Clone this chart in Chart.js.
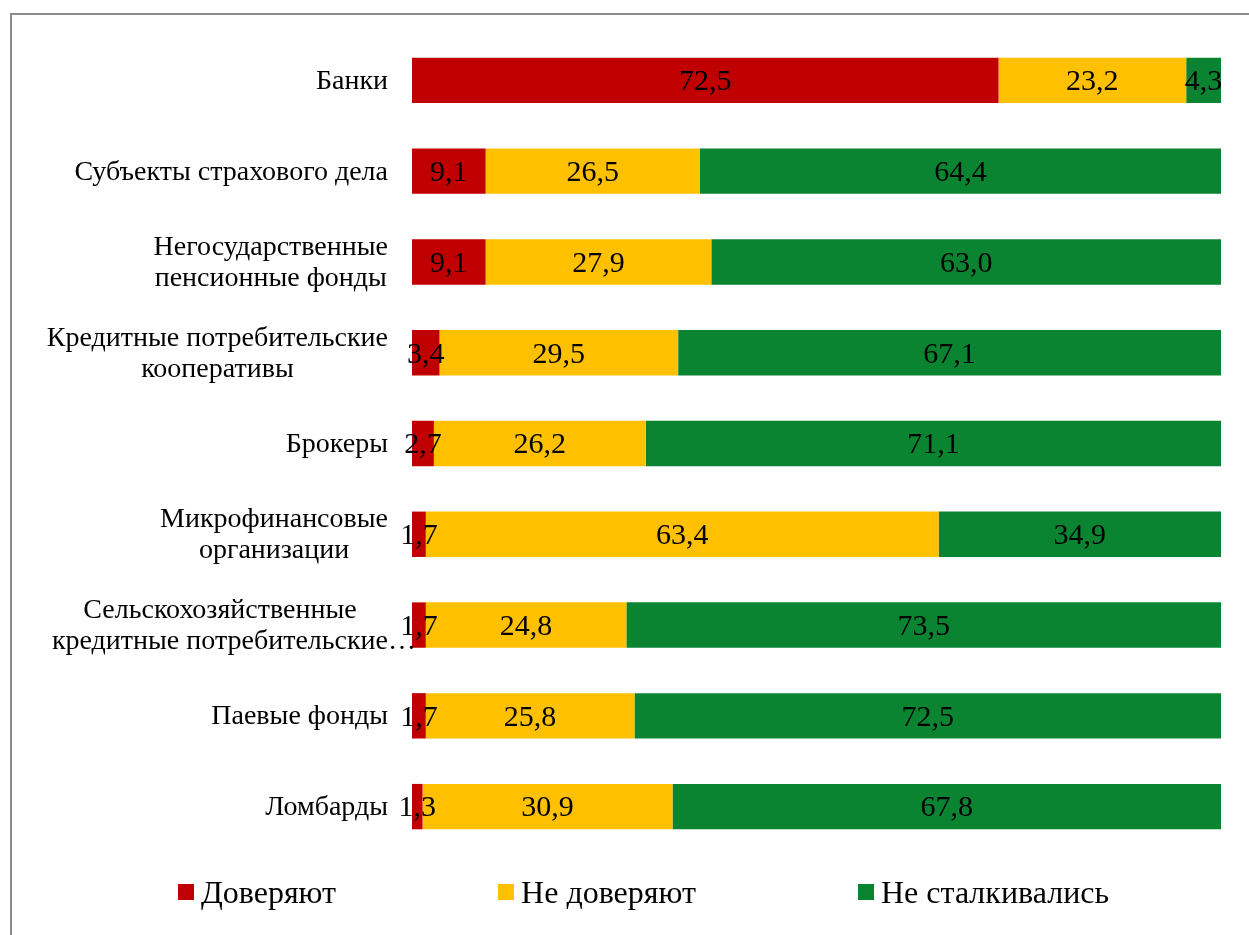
<!DOCTYPE html>
<html>
<head>
<meta charset="utf-8">
<script src="https://cdn.jsdelivr.net/npm/chart.js@4/dist/chart.umd.min.js"></script>
<style>
  html, body { margin: 0; padding: 0; background: #fff; overflow: hidden; }
  #wrap { position: relative; width: 1249px; height: 935px; }
  #frame { position: absolute; left: 10px; top: 13px; width: 1400px; height: 1100px; border: 2px solid #8c8c8c; box-sizing: border-box; }
  #bars { position: absolute; left: 0; top: 0; }
  #legend { position: absolute; left: 0; top: 872px; width: 1287px; display: flex; justify-content: center; gap: 162px;
            font-family: "Liberation Serif", "Times New Roman", serif; font-size: 32px; line-height: 40px; color: #000; }
  #legend span.item { display: flex; align-items: center; white-space: nowrap; }
  #legend span.box { display: inline-block; width: 16px; height: 16px; margin-right: 7px; }
</style>
</head>
<body>
<div id="wrap">
  <div id="frame"></div>
  <canvas id="bars" width="1249" height="935"></canvas>
  <div id="legend"></div>
</div>
<script>
const categories = [
  'Банки',
  ['Субъекты страхового дела'],
  ['Негосударственные', 'пенсионные фонды'],
  ['Кредитные потребительские', 'кооперативы'],
  'Брокеры',
  ['Микрофинансовые', 'организации'],
  ['Сельскохозяйственные', 'кредитные потребительские…'],
  'Паевые фонды',
  'Ломбарды'
];
const seriesNames = ['Доверяют', 'Не доверяют', 'Не сталкивались'];
const trust    = [72.5, 9.1, 9.1, 3.4, 2.7, 1.7, 1.7, 1.7, 1.3];
const distrust = [23.2, 26.5, 27.9, 29.5, 26.2, 63.4, 24.8, 25.8, 30.9];
const noExp    = [4.3, 64.4, 63.0, 67.1, 71.1, 34.9, 73.5, 72.5, 67.8];
const colors = ['#C00000', '#FFC000', '#0A8431'];

const serif = '"Liberation Serif", "Times New Roman", serif';

// подписи значений в центре сегментов
const valueLabels = {
  id: 'valueLabels',
  afterDatasetsDraw(chart) {
    const ctx = chart.ctx;
    ctx.save();
    ctx.font = '30px ' + serif;
    ctx.fillStyle = '#000';
    ctx.textAlign = 'center';
    ctx.textBaseline = 'middle';
    chart.data.datasets.forEach((ds, di) => {
      chart.getDatasetMeta(di).data.forEach((bar, i) => {
        const v = ds.data[i];
        ctx.fillText(v.toFixed(1).replace('.', ','), (bar.x + bar.base) / 2, bar.y + 2);
      });
    });
    ctx.restore();
  }
};

// подписи категорий: строки по центру блока, блок прижат вправо
const categoryLabels = {
  id: 'categoryLabels',
  afterDraw(chart) {
    const ctx = chart.ctx;
    const scale = chart.scales.y;
    const right = 388;
    const lh = 31;
    ctx.save();
    ctx.font = '28px ' + serif;
    ctx.fillStyle = '#000';
    ctx.textAlign = 'left';
    ctx.textBaseline = 'middle';
    categories.forEach((lab, i) => {
      const lines = Array.isArray(lab) ? lab : [lab];
      const widths = lines.map(l => ctx.measureText(l.replace(/…$/, '')).width);
      const maxW = Math.max(...widths);
      const cx = right - maxW / 2;
      const y0 = scale.getPixelForValue(i) + 1 - (lines.length - 1) * lh / 2;
      lines.forEach((l, k) => {
        ctx.fillText(l, cx - widths[k] / 2, y0 + k * lh);
      });
    });
    ctx.restore();
  }
};

const chart = new Chart(document.getElementById('bars'), {
  type: 'bar',
  data: {
    labels: categories,
    datasets: [
      { label: seriesNames[0], data: trust, backgroundColor: colors[0] },
      { label: seriesNames[1], data: distrust, backgroundColor: colors[1] },
      { label: seriesNames[2], data: noExp, backgroundColor: colors[2] }
    ]
  },
  options: {
    indexAxis: 'y',
    responsive: false,
    animation: false,
    events: [],
    layout: { padding: { top: 35, right: 28, bottom: 83 } },
    datasets: { bar: { categoryPercentage: 1, barPercentage: 0.5 } },
    scales: {
      x: { stacked: true, min: 0, max: 100, display: false },
      y: {
        stacked: true,
        grid: { display: false },
        border: { display: false },
        ticks: { display: false },
        afterFit(scale) { scale.width = 412; }
      }
    },
    plugins: {
      legend: { display: false },
      tooltip: { enabled: false }
    }
  },
  plugins: [valueLabels, categoryLabels]
});

const legend = document.getElementById('legend');
chart.data.datasets.forEach(ds => {
  const item = document.createElement('span');
  item.className = 'item';
  const box = document.createElement('span');
  box.className = 'box';
  box.style.background = ds.backgroundColor;
  item.appendChild(box);
  item.appendChild(document.createTextNode(ds.label));
  legend.appendChild(item);
});
</script>
</body>
</html>
